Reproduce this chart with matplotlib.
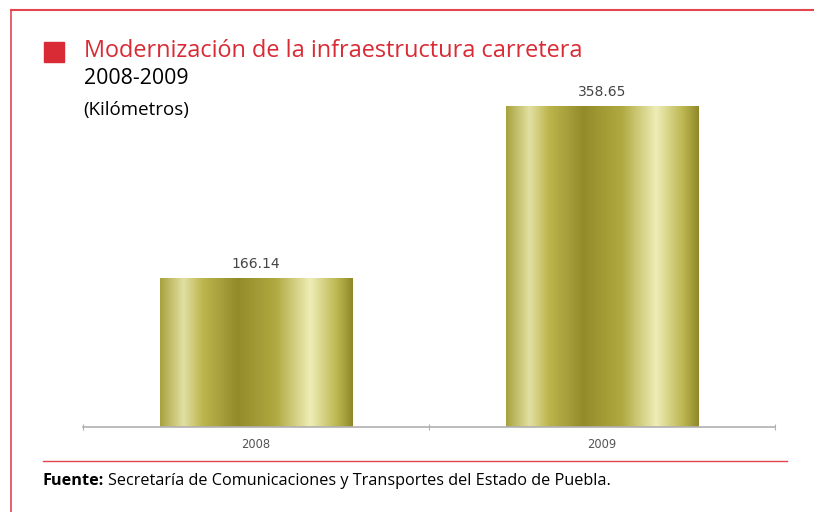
import numpy as np
import matplotlib.pyplot as plt
from matplotlib.colors import LinearSegmentedColormap

# datos
anios = ['2008', '2009']
kilometros = [166.14, 358.65]

rojo = '#d92b35'
borde = '#e2454e'

fig = plt.figure(figsize=(8.14, 5.12), dpi=100)

# marco rojo (arriba e izquierda) y linea de la fuente
fig.add_artist(plt.Line2D([11/814, 1], [1 - 10/512, 1 - 10/512], color=borde, lw=1.5))
fig.add_artist(plt.Line2D([11/814, 11/814], [0, 1 - 10/512], color=borde, lw=1.2))
fig.add_artist(plt.Line2D([43/814, 787/814], [1 - 461/512, 1 - 461/512], color=borde, lw=1.0))

# titulo
fig.add_artist(plt.Rectangle((44/814, 1 - 62/512), 20/814, 20/512, color=rojo,
                             transform=fig.transFigure))
fig.text(84/814, 1 - 51/512, 'Modernización de la infraestructura carretera', color=rojo,
         fontsize=16.9, family='Open Sans', va='center')
fig.text(84/814, 1 - 78/512, '2008-2009', color='black', fontsize=15.3,
         family='Open Sans', va='center')
fig.text(83/814, 1 - 110/512, '(Kilómetros)', color='black', fontsize=13.5,
         family='Open Sans', va='center')

# fuente
t = fig.text(43/814, 1 - 481/512, 'Fuente:', fontsize=11.7, fontweight='bold',
             family='Open Sans', va='center')
fig.canvas.draw()
bb = t.get_window_extent()
fig.text(bb.x1/814 + 4/814, 1 - 481/512,
         'Secretaría de Comunicaciones y Transportes del Estado de Puebla.',
         fontsize=11.7, family='Open Sans', va='center')

ax = fig.add_axes([83/814, 1 - 427/512, 692/814, 331/512])

cmap = LinearSegmentedColormap.from_list('oro', [
    (0.0, '#a8a23e'), (0.12, '#e2e0a2'), (0.22, '#bdb64e'), (0.40, '#938b2a'),
    (0.60, '#b0a940'), (0.78, '#eeedb6'), (0.92, '#bcb650'), (1.0, '#8e882a')])
grad = np.linspace(0, 1, 256).reshape(1, -1)

ancho = 0.555
x = np.arange(len(anios))
barras = ax.bar(x, kilometros, width=ancho, color='none')
for b, v in zip(barras, kilometros):
    ax.imshow(grad, cmap=cmap, aspect='auto', zorder=2,
              extent=(b.get_x(), b.get_x() + b.get_width(), 0, v))
    ax.text(b.get_x() + b.get_width()/2, v + 8, f'{v:.2f}', ha='center', va='bottom',
            fontsize=10, color='#444444')

ax.set_xlim(-0.5, 1.5)
ax.set_ylim(0, 370)
for s in ['top', 'right', 'left']:
    ax.spines[s].set_visible(False)
ax.spines['bottom'].set_color('#b0b0b0')
ax.spines['bottom'].set_linewidth(1.2)
ax.set_yticks([])
ax.set_xticks([-0.5, 0.5, 1.5])
ax.set_xticklabels([])
ax.set_xticks(x, minor=True)
ax.set_xticklabels(anios, minor=True, fontsize=8.3, color='#555555')
ax.tick_params(axis='x', which='major', length=4, color='#b0b0b0', direction='inout')
ax.tick_params(axis='x', which='minor', length=0, pad=8)

fig.savefig('out.png', dpi=100)
